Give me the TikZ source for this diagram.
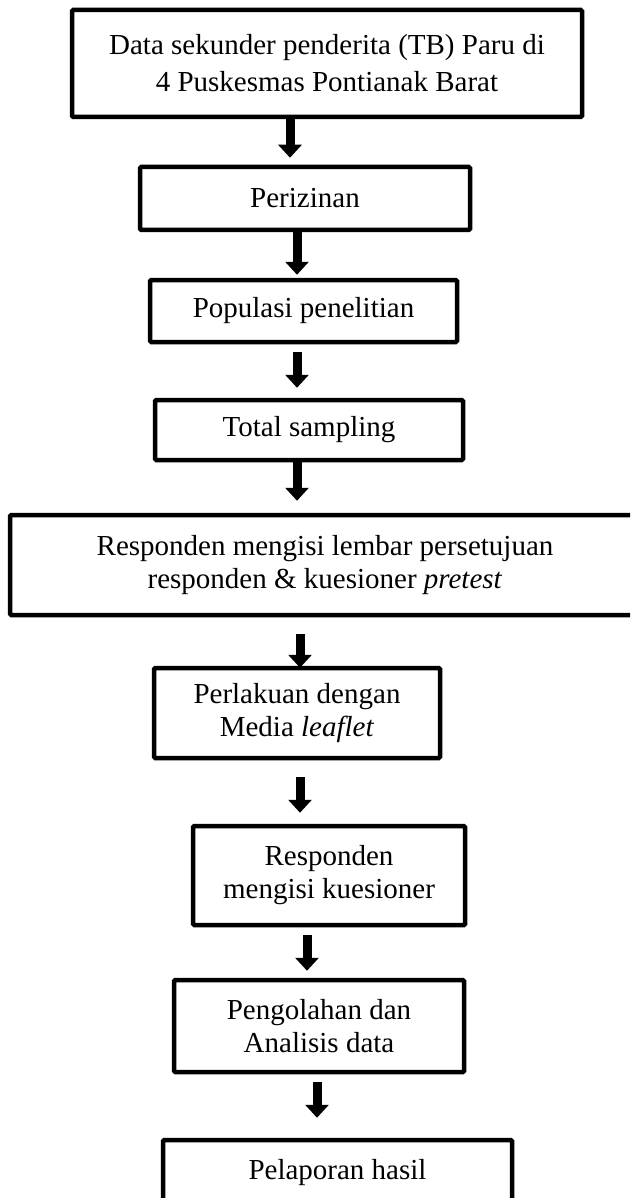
\documentclass[tikz,border=0pt]{standalone}
\usepackage{fontspec}
\setmainfont{Liberation Serif}
\usetikzlibrary{arrows.meta}
\tikzset{
  flowbox/.style={draw=black, line width=4.5pt, rounded corners=1.2pt, fill=white,
    inner sep=0pt, align=center, font=\fontsize{29}{33}\selectfont},
  flowarrow/.style={line width=9pt, -{Triangle[width=23pt,length=13pt]}}
}
\begin{document}
\begin{tikzpicture}[x=1pt,y=-1pt]
\useasboundingbox (0,0) rectangle (630,1198);
\clip (0,0) rectangle (630,1198);
\fill[white] (0,0) rectangle (630,1198);

\node[flowbox, minimum width=510pt, minimum height=107pt, font=\fontsize{29}{37}\selectfont] (n1) at (327,63.5)
  {Data sekunder penderita (TB) Paru di\\4 Puskesmas Pontianak Barat};
\node[flowbox, minimum width=330pt, minimum height=63pt] (n2) at (305,198.5) {Perizinan};
\node[flowbox, minimum width=307pt, minimum height=62pt] (n3) at (303.5,311) {Populasi penelitian};
\node[flowbox, minimum width=308pt, minimum height=60pt] (n4) at (309,430) {Total sampling};
\node[flowbox, minimum width=630pt, minimum height=100pt] (n5) at (325,565)
  {Responden mengisi lembar persetujuan\\responden \& kuesioner \textit{pretest}};
\node[flowbox, minimum width=286pt, minimum height=90pt] (n6) at (297,713)
  {Perlakuan dengan\\Media \textit{leaflet}};
\node[flowbox, minimum width=272pt, minimum height=99pt] (n7) at (329,875.5)
  {Responden\\mengisi kuesioner};
\node[flowbox, minimum width=290pt, minimum height=92pt] (n8) at (319,1026)
  {Pengolahan dan\\Analisis data};
\node[flowbox, minimum width=349pt, minimum height=66pt] (n9) at (337.5,1173)
  {Pelaporan hasil};

\coordinate (x1) at (290,0);
\coordinate (x2) at (297,0);
\coordinate (x5) at (300,0);
\coordinate (x7) at (307,0);
\coordinate (x8) at (317,0);

\draw[flowarrow, shorten >=7pt] (n1.south -| x1) -- (n2.north -| x1);
\draw[flowarrow, shorten >=3pt] (n2.south -| x2) -- (n3.north -| x2);
\draw[flowarrow, shorten <=8pt, shorten >=10pt] (n3.south -| x2) -- (n4.north -| x2);
\draw[flowarrow, shorten <=-3pt, shorten >=12pt] (n4.south -| x2) -- (n5.north -| x2);
\draw[flowarrow, shorten <=17pt, shorten >=-2pt] (n5.south -| x5) -- (n6.north -| x5);
\draw[flowarrow, shorten <=17pt, shorten >=11pt] (n6.south -| x5) -- (n7.north -| x5);
\draw[flowarrow, shorten <=8pt, shorten >=7pt] (n7.south -| x7) -- (n8.north -| x7);
\draw[flowarrow, shorten <=8pt, shorten >=20pt] (n8.south -| x8) -- (n9.north -| x8);
\end{tikzpicture}
\end{document}
